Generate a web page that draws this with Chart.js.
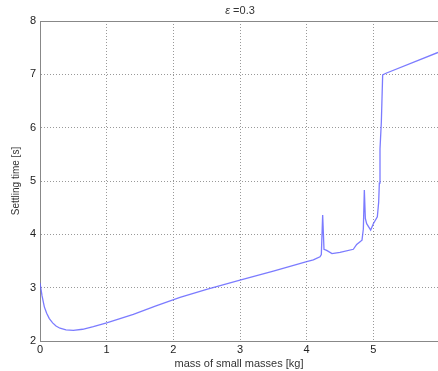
<!DOCTYPE html>
<html>
<head>
<meta charset="utf-8">
<script src="https://cdn.jsdelivr.net/npm/chart.js@4/dist/chart.umd.min.js"></script>
<style>
  html, body { margin:0; padding:0; background:#fff; }
  #wrap { width:438px; height:371px; }
</style>
</head>
<body>
<div id="wrap"><canvas id="chart"></canvas></div>
<script>
// mass of small masses [kg] and settling time [s]
const mass = [0, 0.03, 0.065, 0.1, 0.14, 0.19, 0.24, 0.3, 0.39, 0.5, 0.64, 0.8, 1.0, 1.2, 1.4, 1.74, 2.1, 2.5, 3.0, 3.5, 4.0, 4.1, 4.2, 4.22, 4.24, 4.26, 4.3, 4.38, 4.5, 4.7, 4.75, 4.83, 4.85, 4.865, 4.88, 4.9, 4.96, 5.0, 5.06, 5.08, 5.09, 5.1, 5.12, 5.14, 5.19, 5.97];
const settling = [3.09, 2.85, 2.64, 2.52, 2.42, 2.34, 2.28, 2.24, 2.21, 2.2, 2.22, 2.27, 2.34, 2.42, 2.5, 2.66, 2.82, 2.97, 3.14, 3.31, 3.49, 3.52, 3.58, 3.62, 4.36, 3.72, 3.7, 3.64, 3.66, 3.72, 3.81, 3.89, 4.1, 4.83, 4.3, 4.2, 4.08, 4.2, 4.33, 4.6, 4.96, 5.6, 6.1, 6.99, 7.02, 7.41];
const xTicks = [0, 1, 2, 3, 4, 5];
const yTicks = [2, 3, 4, 5, 6, 7, 8];

const points = mass.map((m, i) => ({x: m, y: settling[i]}));
const fam = 'Liberation Sans, Arial, sans-serif';
const font = {family: fam, size: 11};

// top frame line + title centred over the plot (italic epsilon)
const frame = {
  id: 'frame',
  afterDraw(c){
    const a = c.chartArea, ctx = c.ctx;
    ctx.save();
    ctx.strokeStyle = '#888';
    ctx.lineWidth = 1;
    ctx.beginPath();
    ctx.moveTo(a.left, a.top + 0.5);
    ctx.lineTo(a.right, a.top + 0.5);
    ctx.stroke();

    const p1 = 'ε', p2 = ' =0.3';
    ctx.fillStyle = '#333';
    ctx.textBaseline = 'middle';
    ctx.font = 'italic 11px ' + fam;
    const w1 = ctx.measureText(p1).width;
    ctx.font = '11px ' + fam;
    const w2 = ctx.measureText(p2).width;
    let x = (a.left + 440) / 2 - (w1 + w2) / 2;
    ctx.font = 'italic 11px ' + fam;
    ctx.fillText(p1, x, 11);
    ctx.font = '11px ' + fam;
    ctx.fillText(p2, x + w1, 11);
    ctx.restore();
  }
};

new Chart(document.getElementById('chart'), {
  type: 'line',
  data: {
    datasets: [{
      data: points,
      borderColor: 'rgba(100,100,255,0.85)',
      borderWidth: 1.3,
      pointRadius: 0,
      tension: 0
    }]
  },
  options: {
    responsive: true,
    maintainAspectRatio: false,
    animation: false,
    layout: {padding: {left: 0, right: 0, top: 21, bottom: 0}},
    plugins: {
      legend: {display: false},
      tooltip: {enabled: false},
      title: {display: false}
    },
    scales: {
      x: {
        type: 'linear',
        min: 0,
        max: 5.97,
        afterBuildTicks: s => { s.ticks = xTicks.map(v => ({value: v})); },
        afterFit: s => { s.height = 30; },
        border: {display: true, color: '#888', dash: [1, 2]},
        grid: {color: '#999', drawTicks: false, lineWidth: 1},
        ticks: {color: '#222', font: font, padding: 2, maxRotation: 0},
        title: {display: true, text: 'mass of small masses [kg]', color: '#333', font: {family: fam, size: 11}, padding: {top: 1, bottom: 0}}
      },
      y: {
        min: 2,
        max: 8,
        afterBuildTicks: s => { s.ticks = yTicks.map(v => ({value: v})); },
        afterFit: s => { s.width = 40; },
        border: {display: true, color: '#888', dash: [1, 2]},
        grid: {color: '#999', drawTicks: false, lineWidth: 1},
        ticks: {color: '#222', font: font, padding: 4},
        title: {display: true, text: 'Settling time [s]', color: '#333', font: {family: fam, size: 10}, padding: {top: 10, bottom: 4}}
      }
    }
  },
  plugins: [frame]
});
</script>
</body>
</html>
